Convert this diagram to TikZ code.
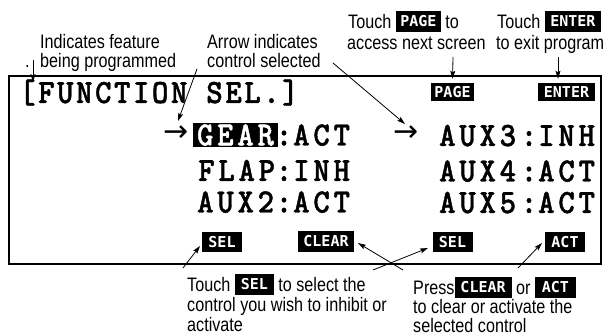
\documentclass[tikz,border=0pt]{standalone}
\usepackage{fontspec}
\setmainfont{Liberation Sans}
\newfontfamily\annfont[FakeStretch=0.83]{Liberation Sans}
\newfontfamily\lcdfont[FakeStretch=0.92,FakeBold=1.2,LetterSpace=11]{lmmonolt10-bold.otf}
\newfontfamily\lcdtfont[FakeStretch=0.92,FakeBold=1.2,LetterSpace=7.5]{lmmonolt10-bold.otf}
\newfontfamily\keyfont{DejaVu Sans Mono}
\newfontfamily\arrfont{DejaVu Sans}
\usetikzlibrary{arrows.meta,calc}
\newcommand{\kbox}[2]{{\setlength{\fboxsep}{0pt}\colorbox{black}{\rule[-3pt]{0pt}{21pt}\makebox[#1pt]{\raisebox{2pt}{\textcolor{white}{\keyfont\bfseries\fontsize{15}{15}\selectfont #2}}}}}}
\tikzset{
  ann/.style={font=\annfont\fontsize{19.5}{20}\selectfont, inner sep=0pt, anchor=base west},
  lcd/.style={font=\lcdfont\fontsize{34}{34}\selectfont, inner sep=0pt, anchor=base west},
  lcdtitle/.style={font=\lcdtfont\fontsize{34}{34}\selectfont, inner sep=0pt, anchor=base west},
  keybox/.style={fill=black, text=white, font=\keyfont\bfseries\fontsize{15}{15}\selectfont, inner sep=0pt, text height=11pt, text depth=0pt},
  selarrow/.style={font=\arrfont\fontsize{30}{30}\selectfont, inner sep=0pt},
  link/.style={-{Stealth[length=8pt,width=5pt,inset=1.5pt]}, line width=0.8pt},
}
\begin{document}
\begin{tikzpicture}[x=1pt,y=-1pt]
\useasboundingbox (0,0) rectangle (608,336);
% screen frame
\node[draw, line width=1.8pt, minimum width=592pt, minimum height=188pt, inner sep=0pt, anchor=north west] (screen) at (8,75) {};
% title
\node[lcdtitle] (title) at (19,103) {[FUNCTION SEL.]};
% top keys
\node[keybox, minimum width=43pt, minimum height=18pt] (pagekey) at (452.5,92) {PAGE};
\node[keybox, minimum width=57pt, minimum height=18pt] (enterkey) at (566.5,92) {ENTER};
% left column
\node[selarrow] (selL) at (176,134) {→};
\node[lcd, fill=black, text=white, anchor=center, minimum width=85pt, minimum height=24pt] (gear) at (235.5,135) {GEAR};
\node[lcd, anchor=base] (c1) at (284,145.5) {:};
\node[lcd] (v1) at (293,145.5) {ACT};
\node[lcd] (flap) at (198,181) {FLAP};
\node[lcd, anchor=base] (c2) at (284,181) {:};
\node[lcd] (v2) at (293,181) {INH};
\node[lcd] (aux2) at (197,212.5) {AUX2};
\node[lcd, anchor=base] (c3) at (284,212.5) {:};
\node[lcd] (v3) at (293,212.5) {ACT};
% right column
\node[selarrow] (selR) at (406,134) {→};
\node[lcd] (aux3) at (439,146) {AUX3};
\node[lcd, anchor=base] (c4) at (529,146) {:};
\node[lcd] (v4) at (538,146) {INH};
\node[lcd] (aux4) at (439,181.5) {AUX4};
\node[lcd, anchor=base] (c5) at (529,181.5) {:};
\node[lcd] (v5) at (538,181.5) {ACT};
\node[lcd] (aux5) at (439,213) {AUX5};
\node[lcd, anchor=base] (c6) at (529,213) {:};
\node[lcd] (v6) at (538,213) {ACT};
% bottom keys
\node[keybox, minimum width=40pt, minimum height=20pt] (sel1) at (222,242) {SEL};
\node[keybox, minimum width=56pt, minimum height=21pt] (clearkey) at (326,241.5) {CLEAR};
\node[keybox, minimum width=40pt, minimum height=20pt] (sel2) at (452.5,242) {SEL};
\node[keybox, minimum width=40pt, minimum height=20pt] (actkey) at (565,242) {ACT};
% annotations
\node[ann] (dot) at (25,68) {.};
\node[ann] (ind1) at (40,49) {Indicates feature};
\node[ann] (ind2) at (40,68) {being programmed};
\node[ann] (arr1) at (207,49) {Arrow indicates};
\node[ann] (arr2) at (207,68) {control selected};
\node[ann] (page1) at (348,29) {Touch \kbox{45}{PAGE} to};
\node[ann] (page2) at (347,50) {access next screen};
\node[ann] (ent1) at (497,29) {Touch \kbox{56}{ENTER}};
\node[ann] (ent2) at (496,50) {to exit program};
\node[ann] (sel1t) at (187,292) {Touch \kbox{39}{SEL} to select the};
\node[ann] (sel2t) at (187,312) {control you wish to inhibit or};
\node[ann] (sel3t) at (187,332) {activate};
\node[ann] (pr1) at (413,295) {Press\kbox{57}{CLEAR} or \kbox{41}{ACT}};
\node[ann] (pr2) at (413,314) {to clear or activate the};
\node[ann] (pr3) at (413,333) {selected control};
% connector end points
\coordinate (a1s) at (33,60);
\coordinate (a1e) at (33,82);
\coordinate (a2s) at (197,69);
\coordinate (a2e) at (178,121);
\coordinate (a3s) at (333,63);
\coordinate (a3e) at (405,124);
\coordinate (a4s) at (453,57);
\coordinate (a5s) at (558,57);
\coordinate (a6s) at (183,268);
\coordinate (a6e) at (200,246);
\coordinate (a7s) at (373,270);
\coordinate (a7e) at (428,248);
\coordinate (a8s) at (403,270);
\coordinate (a8e) at (358,243);
\coordinate (a9s) at (518,268);
\coordinate (a9e) at (542,243);
% connectors
\draw[link] (a1s) -- (a1e);
\draw[link] (a2s) -- (a2e);
\draw[link] (a3s) -- (a3e);
\draw[link, shorten >=4pt] (a4s) -- (pagekey.north);
\draw[link, shorten >=4pt] (a5s) -- (a5s |- enterkey.north);
\draw[link] (a6s) -- (a6e);
\draw[link] (a7s) -- (a7e);
\draw[link] (a8s) -- (a8e);
\draw[link] (a9s) -- (a9e);
\end{tikzpicture}
\end{document}
